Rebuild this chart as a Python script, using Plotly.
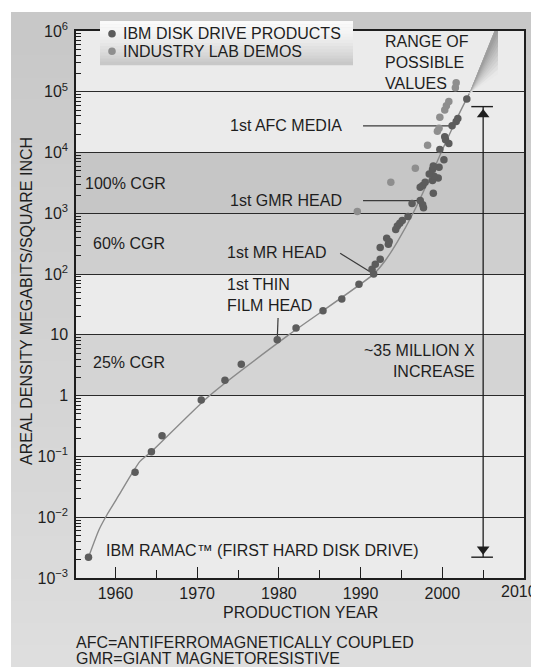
import numpy as np
import plotly.graph_objects as go

# ---------------- data ----------------
ibm_years = [1956.7, 1962.4, 1964.4, 1965.7, 1970.5, 1973.4, 1975.4, 1979.8, 1982.1, 1985.4,
             1987.7, 1989.8, 1991.6, 1991.4, 1991.8, 1992.4, 1992.4, 1993.4, 1993.5, 1993.2,
             1994.3, 1994.5, 1994.8, 1995.1, 1995.8, 1996.3, 1997.3, 1997.6, 1997.7, 1998.9,
             1997.3, 1997.6, 1997.9, 1998.8, 1999.5, 1999.0, 1998.4, 1998.8, 1999.6, 1998.9,
             2000.2, 1999.7, 2000.8, 2000.4, 2000.3, 2001.2, 2001.7, 2001.9, 2003.0]
ibm_density = [0.0022, 0.055, 0.12, 0.22, 0.85, 1.8, 3.3, 8.3, 13, 25,
               39, 68, 100, 120, 145, 175, 275, 310, 345, 390,
               540, 620, 690, 760, 890, 1450, 1620, 1380, 1230, 2140,
               2690, 2880, 3240, 3470, 3800, 4070, 4420, 5250, 5750, 6030,
               7590, 11200, 14100, 16200, 18200, 27500, 32400, 36300, 75900]

lab_years = [1989.6, 1993.7, 1996.7, 1998.2, 1999.4, 1999.6, 1999.7, 2000.3, 2000.5, 2000.8,
             2001.6, 2001.7]
lab_density = [1070, 3240, 5500, 13200, 22400, 25100, 38000, 50100, 58900, 69200,
               117000, 141000]

trend_years = [1956.7, 1958.0, 1959.0, 1960.5, 1962.0, 1963.0, 1964.4, 1971.5, 1981.2,
               1991.6, 1993.0, 1994.5, 1996.5, 1999.2, 2000.4, 2002.0, 2003.3]
trend_density = [0.0022, 0.0063, 0.0112, 0.024, 0.052, 0.083, 0.12, 1.0, 10,
                 100, 166, 340, 1050, 6300, 14500, 41700, 93000]

# range of possible values (fan): apex, top-left, top-right, lower-right
wedge_years = [2003.3, 2006.4, 2006.8, 2006.8]
wedge_density = [93000, 1e6, 1e6, 195000]

# milestones (year, density)
milestone_names = ["1st AFC MEDIA", "1st GMR HEAD", "1st MR HEAD", "1st THIN<br>FILM HEAD"]
milestone_years = [2001.2, 1997.3, 1991.6, 1979.8]
milestone_density = [27500, 1620, 100, 8.3]

# ~35 million x increase arrow
increase_year = 2005
increase_low = 0.0022
increase_high = 57000

# CGR bands
band_low = [1, 100, 1000]
band_high = [10, 1000, 10000]
band_labels = ["25% CGR", "60% CGR", "100% CGR"]

legend_names = ["IBM DISK DRIVE PRODUCTS", "INDUSTRY LAB DEMOS"]

y_tickvals = [1e-3, 1e-2, 1e-1, 1, 10, 1e2, 1e3, 1e4, 1e5, 1e6]
y_ticktext = ["10<sup>\u22123</sup>", "10<sup>\u22122</sup>", "10<sup>\u22121</sup>", "1", "10",
              "10<sup>2</sup>", "10<sup>3</sup>", "10<sup>4</sup>", "10<sup>5</sup>", "10<sup>6</sup>"]
x_tickvals = [1960, 1970, 1980, 1990, 2000, 2010]
x_ticktext = ["1960", "1970", "1980", "1990", "2000", "2010"]
x_minor = [1965, 1975, 1985, 1995, 2005]

# ---------------- layout geometry ----------------
# page body has an 8px margin, so window coordinates are figure coordinates + 8
OFF = 8
W, H = 539 - OFF, 667 - OFF
ML, MR, MT, MB = 76 - OFF, 539 - 524, 29 - OFF, 667 - 578
PW, PH = W - ML - MR, H - MT - MB
XR = [1955.17, 2010.0]


def px(p):  # window pixel x -> paper fraction
    return (p - OFF - ML) / PW


def py(p):  # window pixel y -> paper fraction
    return (H - MB - (p - OFF)) / PH


FONT = "Liberation Sans, Arial, sans-serif"
FS = 16
INK = "#1e1e1e"
DARK = "#5c5c5c"
LIGHT = "#8e8e8e"

fig = go.Figure()

# fan of possible values: angular gradient
lw = np.log10(wedge_density)
wx = np.array(wedge_years)
apex = (wx[0], lw[0])
bnd = [(wx[i], lw[i]) for i in range(1, 4)]
seg = [np.hypot((bnd[i + 1][0] - bnd[i][0]) * 8.17, (bnd[i + 1][1] - bnd[i][1]) * 61) for i in range(2)]
tot = sum(seg)
steps = 10
for k in range(steps, 0, -1):
    f = k / steps
    d = f * tot
    pts = [bnd[0]]
    acc = 0
    for i in range(2):
        if acc + seg[i] <= d:
            pts.append(bnd[i + 1])
            acc += seg[i]
        else:
            t = (d - acc) / seg[i]
            pts.append((bnd[i][0] + t * (bnd[i + 1][0] - bnd[i][0]), bnd[i][1] + t * (bnd[i + 1][1] - bnd[i][1])))
            break
    poly = [apex] + pts + [apex]
    c = int(150 + (232 - 150) * f)
    fig.add_trace(go.Scatter(x=[p[0] for p in poly], y=[10 ** p[1] for p in poly], mode="lines",
                             fill="toself", fillcolor=f"rgb({c},{c},{c})", line=dict(width=0),
                             hoverinfo="skip", showlegend=False))

# trend curve
fig.add_trace(go.Scatter(x=trend_years, y=trend_density, mode="lines",
                         line=dict(color="#8a8a8a", width=1.4, shape="spline", smoothing=0.6),
                         hoverinfo="skip", showlegend=False))

# leader lines
lead_start = {0: (1990.3, None), 1: (1990.3, None), 2: (1987.5, 220), 3: (1979.9, 19)}
for i in range(4):
    sx, sy = lead_start[i]
    if sy is None:
        sy = milestone_density[i]
    fig.add_trace(go.Scatter(x=[sx, milestone_years[i]], y=[sy, milestone_density[i]], mode="lines",
                             line=dict(color="#3a3a3a", width=1.2), hoverinfo="skip", showlegend=False))

# data points
fig.add_trace(go.Scatter(x=ibm_years, y=ibm_density, mode="markers", name=legend_names[0],
                         marker=dict(color=DARK, size=7.5, line=dict(width=0)), showlegend=False))
fig.add_trace(go.Scatter(x=lab_years, y=lab_density, mode="markers", name=legend_names[1],
                         marker=dict(color=LIGHT, size=7.5, line=dict(width=0)), showlegend=False))

# increase arrow
fig.add_trace(go.Scatter(x=[increase_year, increase_year], y=[increase_low, increase_high], mode="lines",
                         line=dict(color=INK, width=1.3), hoverinfo="skip", showlegend=False))
for v in (increase_low, increase_high):
    fig.add_trace(go.Scatter(x=[increase_year - 1.45, increase_year + 1.2], y=[v, v], mode="lines",
                             line=dict(color=INK, width=1.4), hoverinfo="skip", showlegend=False))
fig.add_trace(go.Scatter(x=[increase_year], y=[increase_high * 10 ** (-0.13)], mode="markers",
                         marker=dict(symbol="triangle-up", size=11, color=INK), hoverinfo="skip", showlegend=False))
fig.add_trace(go.Scatter(x=[increase_year], y=[increase_low * 10 ** (0.13)], mode="markers",
                         marker=dict(symbol="triangle-down", size=11, color=INK), hoverinfo="skip", showlegend=False))

shapes = []
# figure gray background (vertical gradient)
n = 30
top_px, bot_px = 10, 667
for i in range(n):
    y0 = top_px + (bot_px - top_px) * i / n
    y1 = top_px + (bot_px - top_px) * (i + 1) / n + 1
    c = int(200 + 22 * i / (n - 1))
    shapes.append(dict(type="rect", xref="paper", yref="paper", x0=px(11), x1=px(539), y0=py(y1), y1=py(y0),
                       fillcolor=f"rgb({c},{c},{c})", line=dict(width=0), layer="below"))
# plot area bg
shapes.append(dict(type="rect", xref="paper", yref="paper", x0=0, x1=1, y0=0, y1=1,
                   fillcolor="#ebebeb", line=dict(width=0), layer="below"))
band_colors = ["#d4d4d4", "#cfcfcf", "#c6c6c6"]
for lo, hi, col in zip(band_low, band_high, band_colors):
    shapes.append(dict(type="rect", xref="paper", yref="y", x0=0, x1=1, y0=lo, y1=hi,
                       fillcolor=col, line=dict(width=0), layer="below"))
# legend box gradient
lx0, lx1, ly0, ly1 = 100, 353, 19, 63
m = 14
for i in range(m):
    a = ly0 + (ly1 - ly0) * i / m
    b = ly0 + (ly1 - ly0) * (i + 1) / m + 0.5
    c = int(250 - 50 * (i / (m - 1)) ** 1.5)
    shapes.append(dict(type="rect", xref="paper", yref="paper", x0=px(lx0), x1=px(lx1), y0=py(b), y1=py(a),
                       fillcolor=f"rgb({c},{c},{c})", line=dict(width=0), layer="above"))
# legend symbols
for yy, col in ((31.7, DARK), (49.3, LIGHT)):
    r = 3.8
    shapes.append(dict(type="circle", xref="paper", yref="paper", x0=px(112 - r), x1=px(112 + r),
                       y0=py(yy + r), y1=py(yy - r), fillcolor=col, line=dict(width=0), layer="above"))

annotations = []


def ann(text, x, y, xanchor="left", yanchor="middle", align="left", xref="x", yref="y", size=FS, **kw):
    annotations.append(dict(text=text, x=x, y=y, xref=xref, yref=yref, xanchor=xanchor, yanchor=yanchor,
                            align=align, showarrow=False, font=dict(family=FONT, size=size, color=INK), **kw))


# legend texts
ann(legend_names[0], px(121), py(31.7), xref="paper", yref="paper")
ann(legend_names[1], px(121), py(49.3), xref="paper", yref="paper")
# milestone labels
ann(milestone_names[0], 1988.0, np.log10(milestone_density[0]), xanchor="right")
ann(milestone_names[1], 1988.0, np.log10(milestone_density[1]), xanchor="right")
ann(milestone_names[2], 1973.4, 2.35, xanchor="left")
ann(milestone_names[3], 1973.4, 1.655, xanchor="left")
# CGR labels
ann(band_labels[2], 1956.0, 3.49)
ann(band_labels[1], 1957.0, 2.51)
ann(band_labels[0], 1957.0, 0.554)
ann("~35 MILLION X<br>INCREASE", 2004.2, 0.57, xanchor="right", align="right")
ann("IBM RAMAC\u2122 (FIRST HARD DISK DRIVE)", 1958.6, -2.55)
ann("RANGE OF<br>POSSIBLE<br>VALUES", 1992.8, 5.49)
# last x tick label sits at the page edge: keep it inside the page
ann(x_ticktext[-1], px(538.5), py(591.5), xanchor="right", xref="paper", yref="paper")
# axis titles and footnote
ann("PRODUCTION YEAR", px(300), py(612.7), xanchor="center", xref="paper", yref="paper")
ann("AREAL DENSITY MEGABITS/SQUARE INCH", px(26), py(300), xanchor="center", xref="paper", yref="paper",
    textangle=-90)
ann("AFC=ANTIFERROMAGNETICALLY COUPLED", px(74), py(642.7), xanchor="left", xref="paper", yref="paper")
ann("GMR=GIANT MAGNETORESISTIVE", px(74), py(658.5), xanchor="left", xref="paper", yref="paper")

fig.update_layout(
    width=W, height=H,
    margin=dict(l=ML, r=MR, t=MT, b=MB),
    paper_bgcolor="white", plot_bgcolor="rgba(0,0,0,0)",
    font=dict(family=FONT, size=FS, color=INK),
    shapes=shapes, annotations=annotations,
    showlegend=False,
    xaxis=dict(range=XR, tickvals=x_tickvals, ticktext=x_ticktext[:-1] + [""],
               ticks="inside", ticklen=11, tickwidth=1.3, tickcolor=INK,
               minor=dict(tickvals=x_minor, ticks="inside", ticklen=8, tickwidth=1.3, tickcolor=INK),
               showline=True, linecolor=INK, linewidth=1.5, mirror=True, showgrid=False, zeroline=False,
               tickfont=dict(family=FONT, size=FS, color=INK)),
    yaxis=dict(type="log", range=[-3, 6], tickvals=y_tickvals, ticktext=y_ticktext,
               ticks="", showgrid=True, gridcolor="#2a2a2a", gridwidth=1.3, ticklabelstandoff=3,
               minor=dict(tickvals=[k * 10.0 ** d for d in range(-3, 6) for k in range(2, 10)],
                          ticks="inside", ticklen=5, tickwidth=1.1, tickcolor=INK, showgrid=False),
               showline=True, linecolor=INK, linewidth=1.5, mirror=True, zeroline=False,
               tickfont=dict(family=FONT, size=FS, color=INK)),
)

fig.write_html("out.html")
